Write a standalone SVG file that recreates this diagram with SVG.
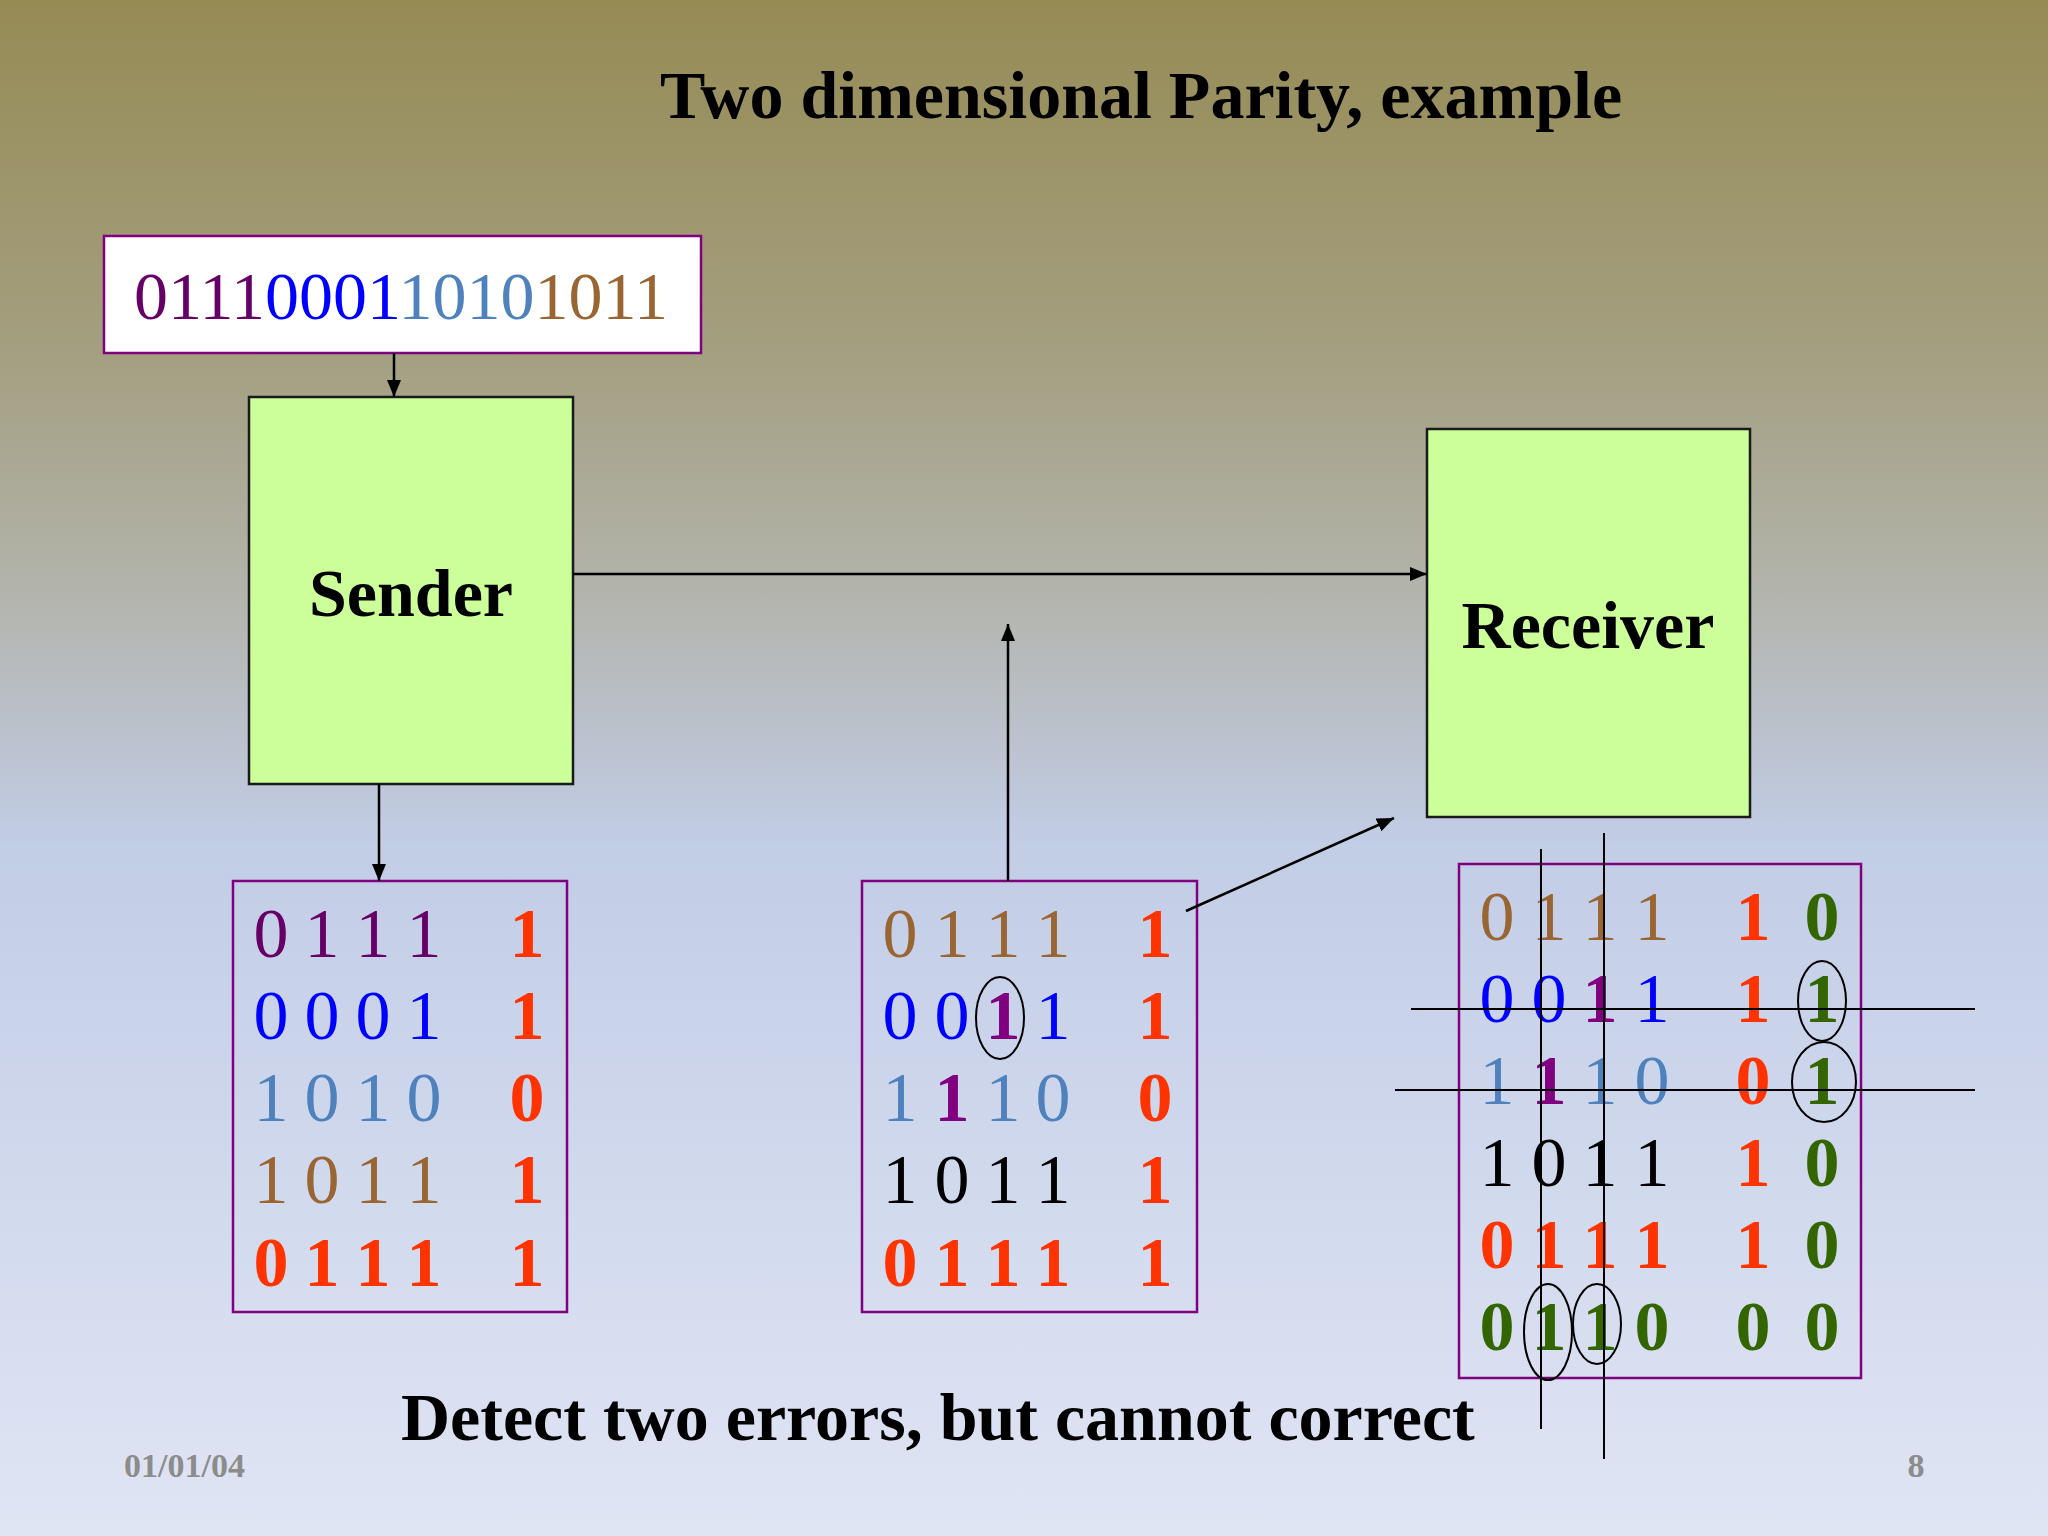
<svg xmlns="http://www.w3.org/2000/svg" width="2048" height="1536" viewBox="0 0 2048 1536">
<defs>
<linearGradient id="bg" x1="0" y1="0" x2="0" y2="1">
<stop offset="0" stop-color="#968B55"/>
<stop offset="0.22" stop-color="#A39E7E"/>
<stop offset="0.38" stop-color="#B2B3AA"/>
<stop offset="0.55" stop-color="#C2CDE6"/>
<stop offset="1" stop-color="#E0E5F4"/>
</linearGradient>
<marker id="ah" markerUnits="userSpaceOnUse" markerWidth="18" markerHeight="14" refX="17" refY="7" orient="auto">
<path d="M0,0 L17,7 L0,14 z" fill="#000"/>
</marker>
<style>
.t{font-family:"Liberation Serif","Times New Roman",serif;font-weight:bold;font-size:68px;fill:#000}
.d{font-family:"Liberation Serif","Times New Roman",serif;font-size:70px;text-anchor:middle}
.b{font-weight:bold}
.pu{fill:#660066}.pb{fill:#800080}.bl{fill:#0000FF}.sb{fill:#4F81BD}.br{fill:#996633}.rd{fill:#FF3300}.gr{fill:#336600}.bk{fill:#000}
.proc{fill:#CCFF99;stroke:#1a1a1a;stroke-width:2.5}
.mat{fill:none;stroke:#800080;stroke-width:2.5}
.cn{stroke:#000;stroke-width:2.5;fill:none}
.mk{stroke:#000;stroke-width:2;fill:none}
.ft{font-family:"Liberation Serif","Times New Roman",serif;font-weight:bold;font-size:34px;fill:#8C8C8C}
</style>
</defs>
<rect x="0" y="0" width="2048" height="1536" fill="url(#bg)"/>

<g id="title"><text class="t" x="660" y="118">Two dimensional Parity, example</text></g>

<g id="input">
<rect x="104" y="236" width="597" height="117" fill="#FFFFFF" stroke="#800080" stroke-width="2.5"/>
<text x="134" y="319" style="font-family:'Liberation Serif','Times New Roman',serif;font-size:68px"><tspan fill="#660066">0111</tspan><tspan fill="#0000FF">0001</tspan><tspan fill="#4F81BD">1010</tspan><tspan fill="#996633">1011</tspan></text>
</g>

<g id="sender">
<rect class="proc" x="249" y="397" width="324" height="387"/>
<text class="t" x="411" y="616" text-anchor="middle">Sender</text>
</g>

<g id="receiver">
<rect class="proc" x="1427" y="429" width="323" height="388"/>
<text class="t" x="1588" y="648" text-anchor="middle">Receiver</text>
</g>

<g id="sent-matrix">
<rect class="mat" x="233" y="881" width="334" height="431"/>
<text class="d" y="957"><tspan class="pu" x="271 322 373 424">0111</tspan><tspan class="rd b" x="527">1</tspan></text>
<text class="d" y="1039"><tspan class="bl" x="271 322 373 424">0001</tspan><tspan class="rd b" x="527">1</tspan></text>
<text class="d" y="1121"><tspan class="sb" x="271 322 373 424">1010</tspan><tspan class="rd b" x="527">0</tspan></text>
<text class="d" y="1203"><tspan class="br" x="271 322 373 424">1011</tspan><tspan class="rd b" x="527">1</tspan></text>
<text class="d b" y="1286"><tspan class="rd" x="271 322 373 424">0111</tspan><tspan class="rd" x="527">1</tspan></text>
</g>

<g id="error-matrix">
<rect class="mat" x="862" y="881" width="335" height="431"/>
<text class="d" y="957"><tspan class="br" x="900 952 1003 1053">0111</tspan><tspan class="rd b" x="1155">1</tspan></text>
<text class="d" y="1039"><tspan class="bl" x="900 952">00</tspan><tspan class="pb b" x="1003">1</tspan><tspan class="bl" x="1053">1</tspan><tspan class="rd b" x="1155">1</tspan></text>
<text class="d" y="1121"><tspan class="sb" x="900">1</tspan><tspan class="pb b" x="952">1</tspan><tspan class="sb" x="1003 1053">10</tspan><tspan class="rd b" x="1155">0</tspan></text>
<text class="d" y="1203"><tspan class="bk" x="900 952 1003 1053">1011</tspan><tspan class="rd b" x="1155">1</tspan></text>
<text class="d b" y="1286"><tspan class="rd" x="900 952 1003 1053">0111</tspan><tspan class="rd" x="1155">1</tspan></text>
<ellipse class="mk" cx="1000" cy="1018" rx="24" ry="41"/>
</g>

<g id="check-matrix">
<rect class="mat" x="1459" y="864" width="402" height="514"/>
<text class="d" y="940"><tspan class="br" x="1497 1549 1600 1652">0111</tspan><tspan class="rd b" x="1753">1</tspan><tspan class="gr b" x="1822">0</tspan></text>
<text class="d" y="1022"><tspan class="bl" x="1497 1549">00</tspan><tspan class="pb b" x="1600">1</tspan><tspan class="bl" x="1652">1</tspan><tspan class="rd b" x="1753">1</tspan><tspan class="gr b" x="1822">1</tspan></text>
<text class="d" y="1104"><tspan class="sb" x="1497">1</tspan><tspan class="pb b" x="1549">1</tspan><tspan class="sb" x="1600 1652">10</tspan><tspan class="rd b" x="1753">0</tspan><tspan class="gr b" x="1822">1</tspan></text>
<text class="d" y="1186"><tspan class="bk" x="1497 1549 1600 1652">1011</tspan><tspan class="rd b" x="1753">1</tspan><tspan class="gr b" x="1822">0</tspan></text>
<text class="d b" y="1268"><tspan class="rd" x="1497 1549 1600 1652">0111</tspan><tspan class="rd" x="1753">1</tspan><tspan class="gr" x="1822">0</tspan></text>
<text class="d b" y="1350"><tspan class="gr" x="1497 1549 1600 1652">0110</tspan><tspan class="gr" x="1753">0</tspan><tspan class="gr" x="1822">0</tspan></text>
<line class="mk" x1="1541" y1="849" x2="1541" y2="1429"/>
<line class="mk" x1="1604" y1="833" x2="1604" y2="1459"/>
<line class="mk" x1="1411" y1="1009" x2="1975" y2="1009"/>
<line class="mk" x1="1395" y1="1090" x2="1975" y2="1090"/>
<ellipse class="mk" cx="1822" cy="1001" rx="24" ry="40"/>
<ellipse class="mk" cx="1824" cy="1082" rx="32" ry="40"/>
<ellipse class="mk" cx="1548" cy="1332" rx="24" ry="48"/>
<ellipse class="mk" cx="1597" cy="1324" rx="24" ry="40"/>
</g>

<g id="connectors">
<line class="cn" x1="394" y1="353" x2="394" y2="397" marker-end="url(#ah)"/>
<line class="cn" x1="379" y1="784" x2="379" y2="881" marker-end="url(#ah)"/>
<line class="cn" x1="573" y1="574" x2="1427" y2="574" marker-end="url(#ah)"/>
<line class="cn" x1="1008" y1="881" x2="1008" y2="624" marker-end="url(#ah)"/>
<line class="cn" x1="1186" y1="911" x2="1394" y2="818" marker-end="url(#ah)"/>
</g>

<g id="caption"><text class="t" x="401" y="1440">Detect two errors, but cannot correct</text></g>

<g id="footer">
<text class="ft" x="124" y="1477">01/01/04</text>
<text class="ft" x="1916" y="1477" text-anchor="middle">8</text>
</g>
</svg>
